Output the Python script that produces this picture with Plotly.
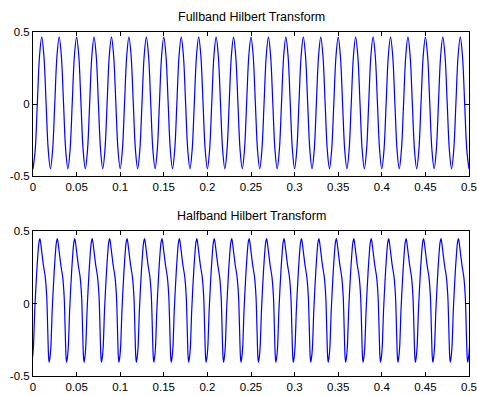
import plotly.graph_objects as go

# ---- Data ----
# Fullband: cycle start times (troughs), one-cycle shape offsets & values
full_cycle_starts = [0.00, 0.02, 0.04, 0.06, 0.08, 0.10, 0.12, 0.14, 0.16, 0.18,
                     0.20, 0.22, 0.24, 0.26, 0.28, 0.30, 0.32, 0.34, 0.36, 0.38,
                     0.40, 0.42, 0.44, 0.46, 0.48]
full_shape_dt = [0.0, 0.0025, 0.005, 0.0075, 0.01, 0.0125, 0.015, 0.0175]
full_shape_v = [-0.45, -0.32, 0.007, 0.335, 0.465, 0.335, 0.007, -0.32]
full_end_t = 0.5
full_end_v = -0.45

# Halfband: cycle peak times, one-cycle shape offsets & values
half_cycle_peaks = [-0.012, 0.008, 0.028, 0.048, 0.068, 0.088, 0.108, 0.128, 0.148,
                    0.168, 0.188, 0.208, 0.228, 0.248, 0.268, 0.288, 0.308, 0.328,
                    0.348, 0.368, 0.388, 0.408, 0.428, 0.448, 0.468, 0.488]
half_shape_dt = [0.0, 0.0012, 0.0038, 0.0060, 0.0078, 0.0098, 0.0105, 0.0113,
                 0.0125, 0.0140, 0.0163, 0.0188]
half_shape_v = [0.447, 0.40, 0.27, 0.185, 0.04, -0.36, -0.405, -0.38,
                -0.30, -0.05, 0.22, 0.42]

x_ticks = [0, 0.05, 0.1, 0.15, 0.2, 0.25, 0.3, 0.35, 0.4, 0.45, 0.5]
x_tick_text = ["0", "0.05", "0.1", "0.15", "0.2", "0.25", "0.3", "0.35", "0.4", "0.45", "0.5"]
y_ticks = [-0.5, 0, 0.5]
y_tick_text = ["-0.5", "0", "0.5"]
titles = ["Fullband Hilbert Transform", "Halfband Hilbert Transform"]

# ---- Build series ----
full_t, full_v = [], []
for s in full_cycle_starts:
    for dt, v in zip(full_shape_dt, full_shape_v):
        full_t.append(s + dt)
        full_v.append(v)
full_t.append(full_end_t)
full_v.append(full_end_v)

half_t, half_v = [], []
for p in half_cycle_peaks:
    for dt, v in zip(half_shape_dt, half_shape_v):
        half_t.append(p + dt)
        half_v.append(v)

FONT = "Liberation Sans, Arial, Helvetica, sans-serif"
fig = go.Figure()
fig.add_trace(go.Scatter(x=full_t, y=full_v, mode="lines",
                         line=dict(color="#0000ff", width=1.2, shape="spline", smoothing=1.0),
                         xaxis="x", yaxis="y", showlegend=False, hoverinfo="skip"))
fig.add_trace(go.Scatter(x=half_t, y=half_v, mode="lines",
                         line=dict(color="#0000ff", width=1.2, shape="spline", smoothing=0.6),
                         xaxis="x2", yaxis="y2", showlegend=False, hoverinfo="skip"))

axis_common = dict(showgrid=False, zeroline=False, showline=True, linecolor="black",
                   linewidth=1, mirror="ticks", ticks="inside", ticklen=4,
                   tickcolor="black", tickwidth=1, automargin=False,
                   tickfont=dict(family=FONT, size=11.5, color="black"))

top_dom = [0.5814, 1.0]
bot_dom = [0.0, 0.4215]

fig.update_layout(
    width=477, height=395,
    margin=dict(l=33, r=8, t=32, b=19, autoexpand=False),
    paper_bgcolor="white", plot_bgcolor="white",
    xaxis=dict(domain=[0, 1], range=[0, 0.5], anchor="y", tickvals=x_ticks,
               ticktext=x_tick_text, **axis_common),
    yaxis=dict(domain=top_dom, range=[-0.5, 0.5], anchor="x", tickvals=y_ticks,
               ticktext=y_tick_text, **axis_common),
    xaxis2=dict(domain=[0, 1], range=[0, 0.5], anchor="y2", tickvals=x_ticks,
                ticktext=x_tick_text, **axis_common),
    yaxis2=dict(domain=bot_dom, range=[-0.5, 0.5], anchor="x2", tickvals=y_ticks,
                ticktext=y_tick_text, **axis_common),
    annotations=[
        dict(text=titles[0], xref="paper", yref="paper", x=0.5, y=top_dom[1],
             xanchor="center", yanchor="bottom", yshift=6, showarrow=False,
             font=dict(family=FONT, size=12.5, color="black")),
        dict(text=titles[1], xref="paper", yref="paper", x=0.5, y=bot_dom[1],
             xanchor="center", yanchor="bottom", yshift=6, showarrow=False,
             font=dict(family=FONT, size=12.5, color="black")),
    ],
)

fig.write_html("out.html")
